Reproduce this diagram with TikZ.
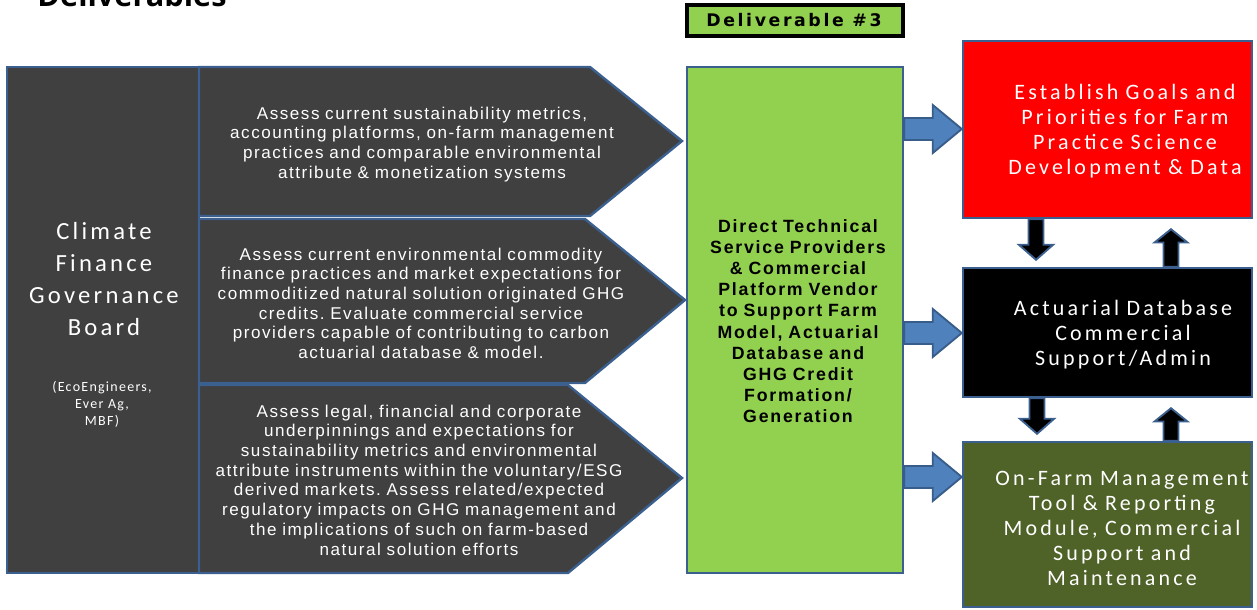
\documentclass[tikz,border=0pt]{standalone}
\usepackage{fontspec}
\setmainfont{Liberation Sans}
\newfontfamily\midfont[LetterSpace=9]{Liberation Sans}
\newfontfamily\grnfont[LetterSpace=10]{Liberation Sans}
\newfontfamily\lblfont[LetterSpace=15]{DejaVu Sans}
\newfontfamily\calright[LetterSpace=14.5]{Carlito}
\newfontfamily\calleft[LetterSpace=13]{Carlito}
\newfontfamily\calsmall[LetterSpace=9]{Carlito}
\newfontfamily\titlefont{Open Sans}
\frenchspacing
\usetikzlibrary{calc,fit}
\definecolor{bordblue}{RGB}{59,95,143}
\definecolor{darkfill}{RGB}{64,64,64}
\definecolor{grnfill}{RGB}{146,208,80}
\definecolor{olivefill}{RGB}{79,98,40}
\definecolor{arrfill}{RGB}{79,129,189}
\definecolor{arrbord}{RGB}{56,93,138}
\tikzset{
  boxbase/.style={draw=bordblue, line width=1.8pt, inner sep=0pt},
  darkbox/.style={boxbase, fill=darkfill},
  pentagon/.style={draw=bordblue, line width=1.8pt, fill=darkfill, line join=miter},
  midtext/.style={text=white, font=\midfont\fontsize{12.8pt}{14.8pt}\selectfont, text width=360pt, align=center, anchor=base, inner sep=0pt},
  righttext/.style={text=white, font=\calright\fontsize{16.5pt}{18.75pt}\selectfont, text width=240pt, align=center, anchor=base, inner sep=0pt},
  bluearrow/.style={draw=arrbord, line width=1.4pt, fill=arrfill},
  blackarrow/.style={draw=bordblue, line width=1.4pt, fill=black}
}
\newcommand\rblock[2]{%
  \draw[bluearrow] let \p1=(#1), \p2=(#2) in
    (\x1,\y1+8.25pt) -- (\x2-21.75pt,\y1+8.25pt) -- (\x2-21.75pt,\y1+18pt) --
    (\x2,\y1) -- (\x2-21.75pt,\y1-18pt) -- (\x2-21.75pt,\y1-8.25pt) --
    (\x1,\y1-8.25pt) -- cycle;}
\newcommand\dnblock[2]{%
  \draw[blackarrow] let \p1=(#1), \p2=(#2) in
    (\x1-5.6pt,\y1) -- (\x1-5.6pt,\y2+16.5pt) -- (\x1-12.8pt,\y2+16.5pt) --
    (\x1,\y2+5.25pt) -- (\x1+12.8pt,\y2+16.5pt) -- (\x1+5.6pt,\y2+16.5pt) --
    (\x1+5.6pt,\y1) -- cycle;}
\newcommand\upblock[2]{%
  \draw[blackarrow] let \p1=(#1), \p2=(#2) in
    (\x1-5.6pt,\y1) -- (\x1-5.6pt,\y2-17.5pt) -- (\x1-12.4pt,\y2-17.5pt) --
    (\x1,\y2-7.5pt) -- (\x1+12.4pt,\y2-17.5pt) -- (\x1+5.6pt,\y2-17.5pt) --
    (\x1+5.6pt,\y1) -- cycle;}
\begin{document}
\begin{tikzpicture}[x=0.75pt,y=-0.75pt]
\useasboundingbox (0,0) rectangle (1257,610);
\clip (0,0) rectangle (1257,610);

% title
\node[anchor=base, inner sep=0pt, font=\titlefont\bfseries\fontsize{23pt}{27pt}\selectfont] (title) at (132,7) {Deliverables};

% left board box
\node[darkbox, fit={(7,67)(199,573)}] (board) {};
\node[text=white, font=\calleft\fontsize{18.5pt}{24pt}\selectfont, text width=140pt, align=center, anchor=base, inner sep=0pt] (boardtxt) at (104,239) {Climate\\Finance\\Governance\\Board};
\node[text=white, font=\calsmall\fontsize{10.5pt}{12.75pt}\selectfont, text width=140pt, align=center, anchor=base, inner sep=0pt] (boardsub) at (102,391) {(EcoEngineers,\\Ever Ag,\\MBF)};

% pentagon arrows
\draw[pentagon] (199,67) -- (590,67) -- (682,141) -- (590,216) -- (199,216) -- cycle;
\draw[pentagon] (199,219) -- (585,219) -- (685,300) -- (585,383) -- (199,383) -- cycle;
\draw[pentagon] (199,385) -- (568,385) -- (682,478) -- (568,573) -- (199,573) -- cycle;

\node[midtext] (t1) at (422,119) {Assess current sustainability metrics,\\accounting platforms, on-farm management\\practices and comparable environmental\\attribute \& monetization systems};
\node[midtext] (t2) at (421,260) {Assess current environmental commodity\\finance practices and market expectations for\\commoditized natural solution originated GHG\\credits. Evaluate commercial service\\providers capable of contributing to carbon\\actuarial database \& model.};
\node[midtext] (t3) at (419,417) {Assess legal, financial and corporate\\underpinnings and expectations for\\sustainability metrics and environmental\\attribute instruments within the voluntary/ESG\\derived markets. Assess related/expected\\regulatory impacts on GHG management and\\the implications of such on farm-based\\natural solution efforts};

% deliverable label
\node[draw=black, line width=2.6pt, fill=grnfill, inner sep=0pt, fit={(687,5)(903,36)}] (dlabel) {};
\node[anchor=base, inner sep=0pt, font=\lblfont\bfseries\fontsize{13pt}{15pt}\selectfont] (dlabeltxt) at (794,27) {Deliverable \#3};

% green box
\node[boxbase, fill=grnfill, fit={(687,67)(903,573)}] (green) {};
\node[anchor=base, inner sep=0pt, text width=190pt, align=center, font=\grnfont\bfseries\fontsize{13.3pt}{15.9pt}\selectfont] (greentxt) at (798,232) {Direct Technical\\Service Providers\\\& Commercial\\Platform Vendor\\to Support Farm\\Model, Actuarial\\Database and\\GHG Credit\\Formation/\\Generation};

% right boxes
\node[boxbase, fill=red, fit={(963,41)(1252,218)}] (goals) {};
\node[righttext] (goalstxt) at (1125,99) {Establish Goals and\\Priorities for Farm\\Practice Science\\Development \& Data};
\node[boxbase, fill=black, fit={(963,268)(1252,397)}] (actuarial) {};
\node[righttext] (actuarialtxt) at (1123,315) {Actuarial Database\\Commercial\\Support/Admin};
\node[boxbase, fill=olivefill, fit={(963,442)(1252,607)}] (onfarm) {};
\node[righttext] (onfarmtxt) at (1122,485) {On-Farm Management\\Tool \& Reporting\\Module, Commercial\\Support and\\Maintenance};

% blue block arrows
\coordinate (a1s) at (green.east |- 0,129);
\coordinate (a1e) at (goals.west |- 0,129);
\coordinate (a2s) at (green.east |- 0,333);
\coordinate (a2e) at (actuarial.west |- 0,333);
\coordinate (a3s) at (green.east |- 0,477);
\coordinate (a3e) at (onfarm.west |- 0,477);
\rblock{a1s}{a1e}
\rblock{a2s}{a2e}
\rblock{a3s}{a3e}

% black vertical arrows
\coordinate (d1s) at (goals.south -| 1036,0);
\coordinate (d1e) at (actuarial.north -| 1036,0);
\coordinate (u1s) at (actuarial.north -| 1171,0);
\coordinate (u1e) at (goals.south -| 1171,0);
\coordinate (d2s) at (actuarial.south -| 1037,0);
\coordinate (d2e) at (onfarm.north -| 1037,0);
\coordinate (u2s) at (onfarm.north -| 1171,0);
\coordinate (u2e) at (actuarial.south -| 1171,0);
\dnblock{d1s}{d1e}
\upblock{u1s}{u1e}
\dnblock{d2s}{d2e}
\upblock{u2s}{u2e}
\end{tikzpicture}
\end{document}
